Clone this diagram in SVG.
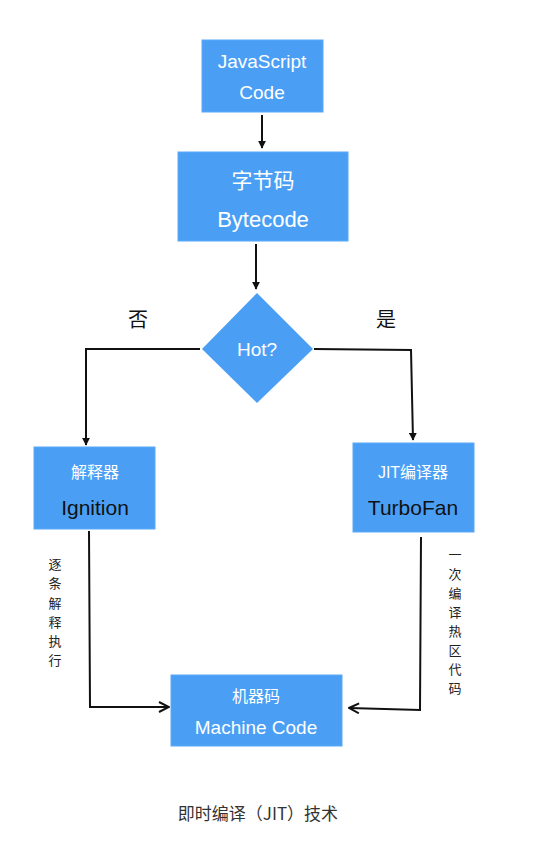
<svg xmlns="http://www.w3.org/2000/svg" width="536" height="846" viewBox="0 0 536 846">
<style>
.box{fill:#4a9ff5;stroke:#5aa9f7;stroke-width:1}
.t{font-family:"Comic Sans MS","Liberation Sans","Noto Sans CJK SC",sans-serif;text-anchor:middle;dominant-baseline:central}
.w{fill:#ffffff}
.k{fill:#111111}
.ln{fill:none;stroke:#111;stroke-width:2}
.v{font-family:"Noto Sans CJK SC",sans-serif;font-size:13px;fill:#222;text-anchor:middle;dominant-baseline:central}
</style>
<defs>
<marker id="fa" viewBox="0 0 10 10" refX="9" refY="5" markerWidth="8" markerHeight="8" orient="auto" markerUnits="userSpaceOnUse">
<path d="M0,0 L10,5 L0,10 Z" fill="#111"/>
</marker>
<marker id="oa" viewBox="0 0 12 12" refX="11" refY="6" markerWidth="12" markerHeight="12" orient="auto" markerUnits="userSpaceOnUse">
<path d="M1,1 L11,6 L1,11" fill="none" stroke="#111" stroke-width="2"/>
</marker>
</defs>
<rect width="536" height="846" fill="#ffffff"/>
<g id="connectors">
<line class="ln" x1="262" y1="115" x2="262" y2="148" marker-end="url(#fa)"/>
<line class="ln" x1="256" y1="244" x2="256" y2="289" marker-end="url(#fa)"/>
<polyline class="ln" points="200,349 86,349 86,445" marker-end="url(#fa)"/>
<polyline class="ln" points="314,349 411,350 413,440" marker-end="url(#fa)"/>
<polyline class="ln" points="89,531 90,707 169,707" marker-end="url(#oa)"/>
<polyline class="ln" points="421,537 420,710 349,708" marker-end="url(#oa)"/>
</g>
<g id="js">
<rect class="box" x="202" y="40" width="121" height="72"/>
<text class="t w" x="262" y="61" font-size="19">JavaScript</text>
<text class="t w" x="262" y="92" font-size="19">Code</text>
</g>
<g id="bytecode">
<rect class="box" x="178" y="152" width="170" height="89"/>
<text class="t w" x="263" y="180" font-size="21">字节码</text>
<text class="t w" x="263" y="219" font-size="22">Bytecode</text>
</g>
<g id="hot">
<polygon points="257,293 313,349 257,403 202,349" fill="#4a9ff5"/>
<text class="t w" x="257" y="349" font-size="19">Hot?</text>
</g>
<g id="labels">
<text class="t k" x="138" y="320" font-size="20" font-family="Noto Sans CJK SC,sans-serif">否</text>
<text class="t k" x="386" y="320" font-size="20" font-family="Noto Sans CJK SC,sans-serif">是</text>
</g>
<g id="ignition">
<rect class="box" x="34" y="447" width="121" height="82"/>
<text class="t w" x="95" y="472" font-size="16">解释器</text>
<text class="t k" x="95" y="507" font-size="21">Ignition</text>
</g>
<g id="turbofan">
<rect class="box" x="353" y="443" width="121" height="89"/>
<text class="t w" x="413" y="472" font-size="16">JIT编译器</text>
<text class="t k" x="413" y="507" font-size="21">TurboFan</text>
</g>
<g id="machine">
<rect class="box" x="171" y="675" width="171" height="71"/>
<text class="t w" x="256" y="696" font-size="16">机器码</text>
<text class="t w" x="256" y="727" font-size="19">Machine Code</text>
</g>
<g id="leftnote">
<text class="v" x="55" y="563">逐</text>
<text class="v" x="55" y="582">条</text>
<text class="v" x="55" y="602">解</text>
<text class="v" x="55" y="621">释</text>
<text class="v" x="55" y="640">执</text>
<text class="v" x="55" y="659">行</text>
</g>
<g id="rightnote">
<text class="v" x="455" y="553">一</text>
<text class="v" x="455" y="573">次</text>
<text class="v" x="455" y="592">编</text>
<text class="v" x="455" y="611">译</text>
<text class="v" x="455" y="630">热</text>
<text class="v" x="455" y="649">区</text>
<text class="v" x="455" y="668">代</text>
<text class="v" x="455" y="687">码</text>
</g>
<g id="caption">
<text x="258" y="812" font-family="Noto Sans CJK SC,sans-serif" font-size="17" fill="#333" text-anchor="middle" dominant-baseline="central">即时编译（JIT）技术</text>
</g>
</svg>
